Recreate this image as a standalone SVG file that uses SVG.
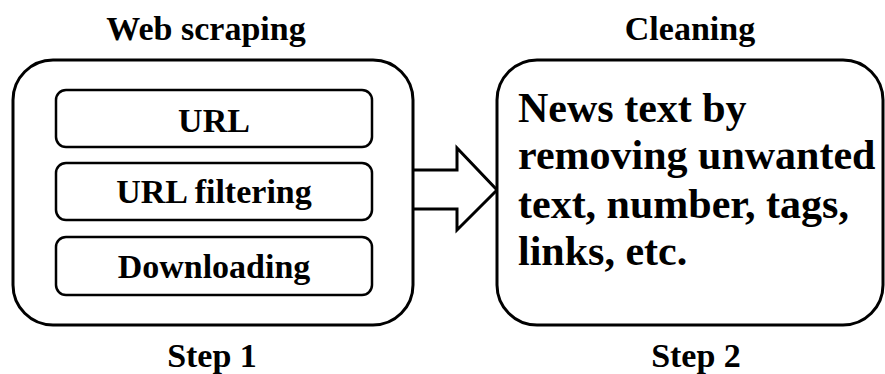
<svg xmlns="http://www.w3.org/2000/svg" width="885" height="374" viewBox="0 0 885 374">
<style>
.t{font-family:"Liberation Serif","Times New Roman",serif;font-weight:bold;fill:#000;}
.lbl{font-size:34px;text-anchor:middle;}
.big{font-size:42px;}
.box{fill:#fff;stroke:#000;stroke-width:3;}
.inner{fill:#fff;stroke:#000;stroke-width:2.5;}
</style>
<rect width="885" height="374" fill="#fff"/>
<g id="connectors">
<path d="M413,170 L457,170 L457,148 L497,190 L457,230 L457,209 L413,209" fill="#fff" stroke="#000" stroke-width="3" stroke-linejoin="miter"/>
</g>
<g id="step1">
<text class="t lbl" x="206" y="40">Web scraping</text>
<rect class="box" x="13" y="60" width="400" height="265" rx="40" ry="40"/>
<text class="t lbl" x="212" y="367">Step 1</text>
</g>
<g id="url">
<rect class="inner" x="56" y="90" width="316" height="57" rx="10" ry="10"/>
<text class="t lbl" x="214" y="132">URL</text>
</g>
<g id="url-filtering">
<rect class="inner" x="56" y="163" width="316" height="57" rx="10" ry="10"/>
<text class="t lbl" x="214" y="203">URL filtering</text>
</g>
<g id="downloading">
<rect class="inner" x="56" y="237" width="316" height="58" rx="10" ry="10"/>
<text class="t lbl" x="214" y="278">Downloading</text>
</g>
<g id="step2">
<text class="t lbl" x="690" y="40">Cleaning</text>
<rect class="box" x="497" y="60" width="386" height="265" rx="40" ry="40"/>
<text class="t big" x="518" y="122">News text by</text>
<text class="t big" x="518" y="169">removing unwanted</text>
<text class="t big" x="518" y="218">text, number, tags,</text>
<text class="t big" x="518" y="265">links, etc.</text>
<text class="t lbl" x="696" y="367">Step 2</text>
</g>
</svg>
